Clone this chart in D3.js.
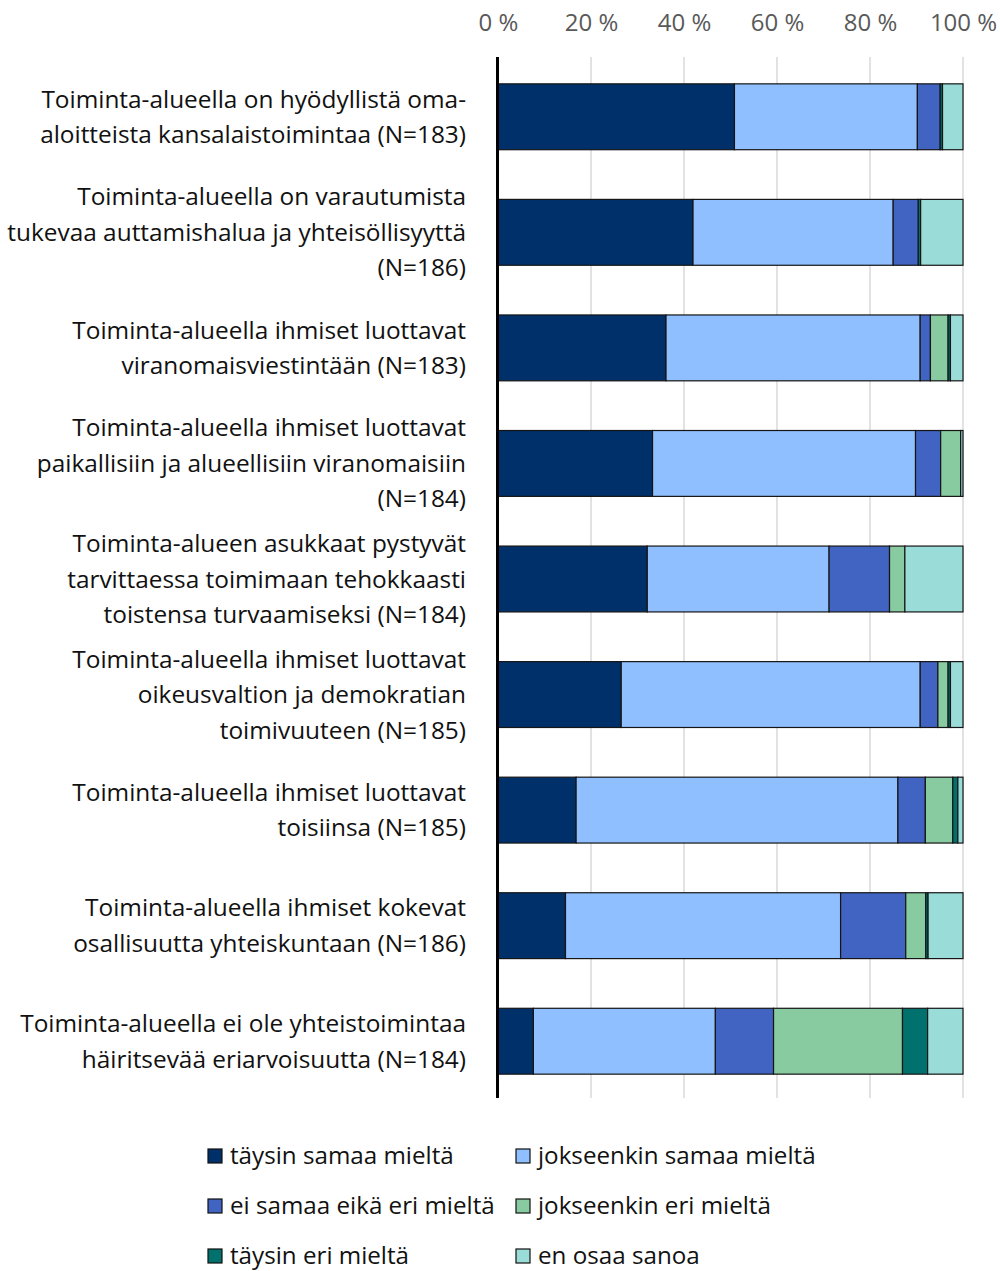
<!DOCTYPE html>
<html>
<head>
<meta charset="utf-8">
<script src="https://cdn.jsdelivr.net/npm/d3@7"></script>
<style>
  html, body { margin: 0; padding: 0; background: #fff; }
  svg { display: block; font-family: "Open Sans", "Noto Sans", sans-serif; }
</style>
</head>
<body>
<div id="chart"></div>
<script>
// Statements (each line of a label is a separate entry)
const categories = [
  ["Toiminta-alueella on hyödyllistä oma-", "aloitteista kansalaistoimintaa (N=183)"],
  ["Toiminta-alueella on varautumista", "tukevaa auttamishalua ja yhteisöllisyyttä", "(N=186)"],
  ["Toiminta-alueella ihmiset luottavat", "viranomaisviestintään (N=183)"],
  ["Toiminta-alueella ihmiset luottavat", "paikallisiin ja alueellisiin viranomaisiin", "(N=184)"],
  ["Toiminta-alueen asukkaat pystyvät", "tarvittaessa toimimaan tehokkaasti", "toistensa turvaamiseksi (N=184)"],
  ["Toiminta-alueella ihmiset luottavat", "oikeusvaltion ja demokratian", "toimivuuteen (N=185)"],
  ["Toiminta-alueella ihmiset luottavat", "toisiinsa (N=185)"],
  ["Toiminta-alueella ihmiset kokevat", "osallisuutta yhteiskuntaan (N=186)"],
  ["Toiminta-alueella ei ole yhteistoimintaa", "häiritsevää eriarvoisuutta (N=184)"]
];

// Response options, in stacking order
const seriesNames = [
  "täysin samaa mieltä",
  "jokseenkin samaa mieltä",
  "ei samaa eikä eri mieltä",
  "jokseenkin eri mieltä",
  "täysin eri mieltä",
  "en osaa sanoa"
];

// Shares (%) per statement, one array per response option
const taysinSamaa     = [50.8, 41.9, 36.1, 33.2, 32.1, 26.5, 16.8, 14.5,  7.6];
const jokseenkinSamaa = [39.3, 43.0, 54.6, 56.5, 39.1, 64.3, 69.2, 59.1, 39.1];
const eiSamaaEikaEri  = [ 4.9,  5.4,  2.2,  5.4, 13.0,  3.8,  5.9, 14.0, 12.5];
const jokseenkinEri   = [ 0.0,  0.0,  3.8,  4.3,  3.3,  2.2,  5.9,  4.3, 27.7];
const taysinEri       = [ 0.5,  0.5,  0.5,  0.0,  0.0,  0.5,  1.1,  0.5,  5.4];
const enOsaaSanoa     = [ 4.4,  9.1,  2.7,  0.5, 12.5,  2.7,  1.1,  7.5,  7.6];

const tickValues = [0, 0.2, 0.4, 0.6, 0.8, 1.0];
const tickLabels = ["0 %", "20 %", "40 %", "60 %", "80 %", "100 %"];

const colors = ["#00306a", "#90bfff", "#4163c1", "#88cba0", "#00716d", "#9adcd8"];

const seriesValues = [taysinSamaa, jokseenkinSamaa, eiSamaaEikaEri, jokseenkinEri, taysinEri, enOsaaSanoa];
const rows = categories.map((c, i) => {
  const r = { key: i };
  seriesNames.forEach((s, j) => { r[s] = seriesValues[j][i]; });
  return r;
});

const W = 1000, H = 1271;
const svg = d3.select("#chart").append("svg").attr("width", W).attr("height", H);

const x = d3.scaleLinear().domain([0, 1]).range([498, 963]);
const y = d3.scaleBand().domain(d3.range(categories.length)).range([59, 1099]).paddingInner(0.43).paddingOuter(0.215);

const stack = d3.stack().keys(seriesNames).offset(d3.stackOffsetExpand);
const layers = stack(rows);

// Gridlines
svg.append("g").selectAll("line").data(tickValues.slice(1)).join("line")
  .attr("x1", d => x(d)).attr("x2", d => x(d))
  .attr("y1", 57).attr("y2", 1098)
  .attr("stroke", "#d9d9d9").attr("stroke-width", 1.5);

// Tick labels on top
const axisTop = d3.axisTop(x).tickValues(tickValues).tickFormat((d, i) => tickLabels[i]).tickSize(0).tickPadding(0);
const gAxis = svg.append("g").attr("transform", "translate(0,31)").call(axisTop);
gAxis.select(".domain").remove();
gAxis.selectAll("text")
  .attr("fill", "#595959")
  .attr("font-size", 24)
  .attr("font-family", "\"Open Sans\", sans-serif")
  .attr("dy", 0);

// Stacked bars
svg.append("g").selectAll("g").data(layers).join("g")
  .attr("fill", (d, i) => colors[i])
  .selectAll("rect").data(d => d).join("rect")
  .attr("x", d => x(d[0]))
  .attr("width", d => Math.max(0, x(d[1]) - x(d[0])))
  .attr("y", (d, i) => y(i))
  .attr("height", y.bandwidth())
  .attr("stroke", d => (d[1] - d[0]) > 0 ? "#151515" : "none")
  .attr("stroke-width", 1.2);

// Category axis line
svg.append("line")
  .attr("x1", 497.5).attr("x2", 497.5)
  .attr("y1", 57).attr("y2", 1098)
  .attr("stroke", "#000").attr("stroke-width", 3);

// Category labels
const lineH = 35.5;
const labels = svg.append("g").selectAll("text").data(categories).join("text")
  .attr("text-anchor", "end")
  .attr("font-size", 24.4)
  .attr("fill", "#111")
  .attr("x", 466)
  .attr("y", (d, i) => y(i) + y.bandwidth() / 2);
labels.selectAll("tspan").data(d => d.map((t, k) => ({ t, k, n: d.length }))).join("tspan")
  .attr("x", 466)
  .attr("y", function (d) {
    const cy = +d3.select(this.parentNode).attr("y");
    return cy + (d.k - (d.n - 1) / 2) * lineH;
  })
  .attr("dy", "0.35em")
  .text(d => d.t);

// Legend
const legend = svg.append("g");
const legendPos = [
  [208, 1156], [516, 1156],
  [208, 1206], [516, 1206],
  [208, 1256], [516, 1256]
];
seriesNames.forEach((s, i) => {
  const [lx, ly] = legendPos[i];
  legend.append("rect")
    .attr("x", lx).attr("y", ly - 7).attr("width", 14).attr("height", 14)
    .attr("fill", colors[i]).attr("stroke", "#111").attr("stroke-width", 1.2);
  legend.append("text")
    .attr("x", lx + 22).attr("y", ly).attr("dy", "0.35em")
    .attr("font-size", 24.2).attr("fill", "#111")
    .text(s);
});
</script>
</body>
</html>
